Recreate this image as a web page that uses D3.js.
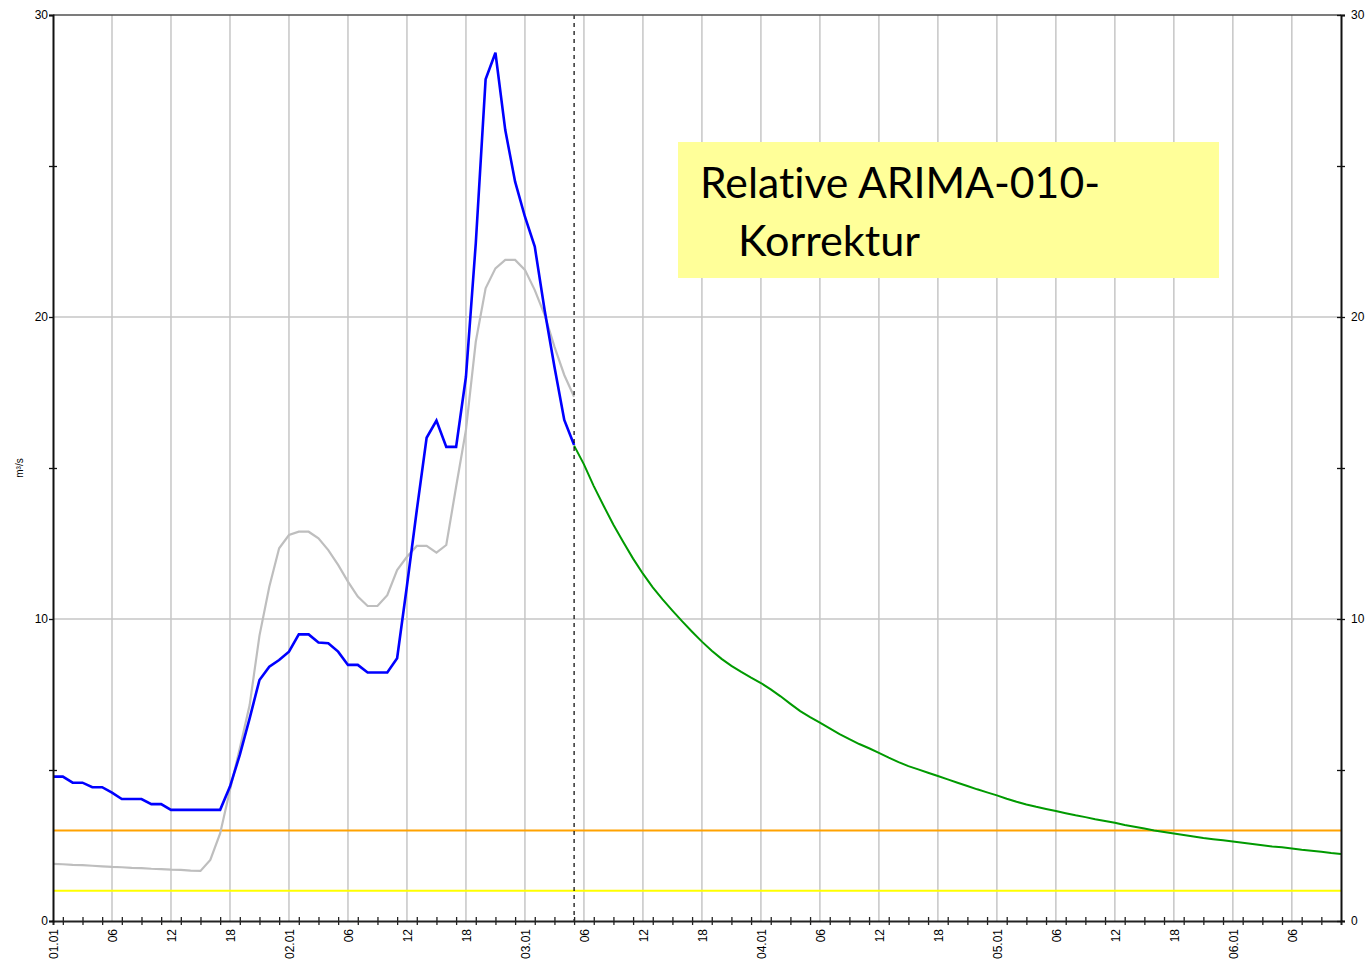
<!DOCTYPE html>
<html>
<head>
<meta charset="utf-8">
<script src="https://cdn.jsdelivr.net/npm/d3@7"></script>
<style>
  body { margin: 0; background: #fff; }
  svg { display: block; }
  .tick text { font-family: "Liberation Sans", Arial, sans-serif; font-size: 12px; fill: #000; }
  .note { font-variant-ligatures: none; font-feature-settings: "liga" 0, "clig" 0, "dlig" 0; }
</style>
</head>
<body>
<div id="chart"></div>
<script>
let svgWidth = 1366;
let svgHeight = 965;

let margin = { top: 15, right: 25, bottom: 44, left: 53 };
let width = svgWidth - margin.left - margin.right;
let height = svgHeight - margin.top - margin.bottom;

// hourly values, m³/s
let startTime = new Date(2003, 0, 1, 0);
let totalHours = 131;
let forecastStart = 53;

let observed = [4.78, 4.78, 4.58, 4.58, 4.43, 4.43, 4.25, 4.04, 4.04, 4.04,
  3.87, 3.87, 3.68, 3.68, 3.68, 3.68, 3.68, 3.68, 4.45, 5.50,
  6.71, 7.98, 8.42, 8.64, 8.92, 9.49, 9.49, 9.22, 9.20, 8.92,
  8.48, 8.48, 8.23, 8.23, 8.23, 8.70, 11.1, 13.6, 16.0, 16.57,
  15.7, 15.7, 18.02, 22.44, 27.87, 28.75, 26.19, 24.48, 23.32, 22.33,
  20.23, 18.35, 16.59, 15.76];

let simulated = [1.89, 1.88, 1.86, 1.85, 1.83, 1.81, 1.79, 1.78, 1.76, 1.75,
  1.73, 1.72, 1.70, 1.69, 1.67, 1.66, 2.02, 2.90, 4.34, 5.72,
  7.15, 9.45, 11.07, 12.34, 12.78, 12.89, 12.89, 12.67, 12.28, 11.79,
  11.24, 10.74, 10.43, 10.43, 10.79, 11.62, 12.06, 12.42, 12.42, 12.2,
  12.45, 14.38, 16.26, 19.18, 20.95, 21.61, 21.89, 21.89, 21.56, 20.89,
  20.07, 19.02, 18.08, 17.36];

// corrected forecast from hour 53 to 131
let forecast = [15.74, 15.12, 14.40, 13.75, 13.12, 12.55, 12.00, 11.50, 11.05, 10.65,
  10.28, 9.92, 9.58, 9.25, 8.95, 8.68, 8.45, 8.25, 8.06, 7.88,
  7.67, 7.44, 7.19, 6.95, 6.75, 6.57, 6.38, 6.19, 6.02, 5.86,
  5.72, 5.57, 5.41, 5.26, 5.13, 5.02, 4.91, 4.80, 4.69, 4.58,
  4.47, 4.36, 4.26, 4.16, 4.05, 3.95, 3.86, 3.78, 3.71, 3.64,
  3.57, 3.50, 3.44, 3.37, 3.31, 3.25, 3.18, 3.12, 3.06, 3.00,
  2.95, 2.90, 2.85, 2.80, 2.75, 2.71, 2.67, 2.63, 2.59, 2.55,
  2.51, 2.47, 2.44, 2.40, 2.36, 2.33, 2.29, 2.25, 2.22];

let thresholds = [
  { value: 3.0, color: "#ffa200" },
  { value: 1.0, color: "#ffff00" }
];

let yLabels = [0, 10, 20, 30];
let yTicks = [0, 5, 10, 15, 20, 25, 30];
let yGrid = [10, 20];

let hourAt = h => d3.timeHour.offset(startTime, h);

let svg = d3.select("#chart")
  .append("svg")
  .attr("width", svgWidth)
  .attr("height", svgHeight);

let chartGroup = svg.append("g")
  .attr("transform", `translate(${margin.left}, ${margin.top})`);

let xScale = d3.scaleTime()
  .domain([hourAt(0), hourAt(totalHours)])
  .range([0, width]);

let yScale = d3.scaleLinear()
  .domain([0, 30])
  .range([height, 0]);

let sixHours = d3.range(6, totalHours, 6).map(hourAt);
let oddHours = d3.range(1, totalHours, 2).map(hourAt);

// grid
chartGroup.selectAll(".vgrid")
  .data(sixHours)
  .enter()
  .append("line")
  .attr("x1", d => xScale(d))
  .attr("x2", d => xScale(d))
  .attr("y1", 0)
  .attr("y2", height)
  .attr("stroke", "#c6c6c6")
  .attr("stroke-width", 1.5);

chartGroup.selectAll(".hgrid")
  .data(yGrid)
  .enter()
  .append("line")
  .attr("x1", 0)
  .attr("x2", width)
  .attr("y1", d => yScale(d))
  .attr("y2", d => yScale(d))
  .attr("stroke", "#c6c6c6")
  .attr("stroke-width", 1.5);

// thresholds
chartGroup.selectAll(".threshold")
  .data(thresholds)
  .enter()
  .append("line")
  .attr("x1", 0)
  .attr("x2", width)
  .attr("y1", d => yScale(d.value))
  .attr("y2", d => yScale(d.value))
  .attr("stroke", d => d.color)
  .attr("stroke-width", 2);

// series
let line = d3.line()
  .x(d => xScale(hourAt(d[0])))
  .y(d => yScale(d[1]));

chartGroup.append("path")
  .datum(simulated.map((v, i) => [i, v]))
  .attr("d", line)
  .attr("fill", "none")
  .attr("stroke", "#bebebe")
  .attr("stroke-width", 2.2);

chartGroup.append("path")
  .datum(forecast.map((v, i) => [forecastStart + i, v]))
  .attr("d", line)
  .attr("fill", "none")
  .attr("stroke", "#009a00")
  .attr("stroke-width", 2);

chartGroup.append("path")
  .datum(observed.map((v, i) => [i, v]))
  .attr("d", line)
  .attr("fill", "none")
  .attr("stroke", "#0000ff")
  .attr("stroke-width", 2.6);

// forecast time
chartGroup.append("line")
  .attr("x1", xScale(hourAt(forecastStart)))
  .attr("x2", xScale(hourAt(forecastStart)))
  .attr("y1", 0)
  .attr("y2", height)
  .attr("stroke", "#000")
  .attr("stroke-width", 1.2)
  .attr("stroke-dasharray", "4,4");

// frame
chartGroup.append("line")
  .attr("x1", 0).attr("x2", width)
  .attr("y1", 0).attr("y2", 0)
  .attr("stroke", "#505050")
  .attr("stroke-width", 1.5);

// bottom axis: odd-hour ticks
let bottomTicks = chartGroup.append("g")
  .attr("transform", `translate(0, ${height})`)
  .call(d3.axisBottom(xScale).tickValues(oddHours).tickSize(4).tickFormat(""));
bottomTicks.selectAll(".tick line").attr("y1", -4).attr("stroke", "#222").attr("stroke-width", 1.3);
bottomTicks.select(".domain").attr("stroke", "#222").attr("stroke-width", 2);

// bottom labels
let labelFormat = d => d.getHours() === 0 ? d3.timeFormat("%d.%m")(d) : d3.timeFormat("%H")(d);
let bottomLabels = chartGroup.append("g")
  .attr("transform", `translate(0, ${height})`)
  .call(d3.axisBottom(xScale).tickValues(d3.range(0, totalHours, 6).map(hourAt)).tickSize(0).tickFormat(labelFormat));
bottomLabels.select(".domain").remove();
bottomLabels.selectAll(".tick text")
  .attr("transform", "rotate(-90)")
  .attr("x", -8)
  .attr("y", 0)
  .attr("dy", "0.35em")
  .style("text-anchor", "end");

// left axis
let leftAxis = chartGroup.append("g")
  .call(d3.axisLeft(yScale).tickValues(yTicks).tickSize(4)
    .tickFormat(d => yLabels.includes(d) ? d : ""));
leftAxis.select(".domain").attr("stroke", "#111").attr("stroke-width", 2);
leftAxis.selectAll(".tick line")
  .attr("x1", d => d % 10 === 0 ? 0 : 4)
  .attr("stroke", "#111").attr("stroke-width", 1.3);
leftAxis.selectAll(".tick text").attr("x", -5);

// right axis
let rightAxis = chartGroup.append("g")
  .attr("transform", `translate(${width}, 0)`)
  .call(d3.axisRight(yScale).tickValues(yTicks).tickSize(4)
    .tickFormat(d => yLabels.includes(d) ? d : ""));
rightAxis.select(".domain").attr("stroke", "#111").attr("stroke-width", 2);
rightAxis.selectAll(".tick line").attr("x1", -4).attr("stroke", "#111").attr("stroke-width", 1.3);
rightAxis.selectAll(".tick text").attr("x", 10);

// unit label
svg.append("text")
  .attr("transform", `translate(23, ${margin.top + yScale(15)}) rotate(-90)`)
  .attr("text-anchor", "middle")
  .attr("font-family", "Liberation Sans, Arial, sans-serif")
  .attr("font-size", 10)
  .text("m³/s");

// annotation box
svg.append("rect")
  .attr("x", 678)
  .attr("y", 142)
  .attr("width", 541)
  .attr("height", 136)
  .attr("fill", "#ffff99");

svg.append("text")
  .attr("class", "note")
  .attr("x", 700)
  .attr("y", 198)
  .attr("font-family", "Lato, 'Open Sans', sans-serif")
  .attr("font-size", 42)
  .attr("textLength", 400)
  .attr("lengthAdjust", "spacingAndGlyphs")
  .text("Relative ARIMA-010-");

svg.append("text")
  .attr("class", "note")
  .attr("x", 738)
  .attr("y", 256)
  .attr("font-family", "Lato, 'Open Sans', sans-serif")
  .attr("font-size", 42)
  .attr("textLength", 182)
  .attr("lengthAdjust", "spacingAndGlyphs")
  .text("Korrektur");
</script>
</body>
</html>
